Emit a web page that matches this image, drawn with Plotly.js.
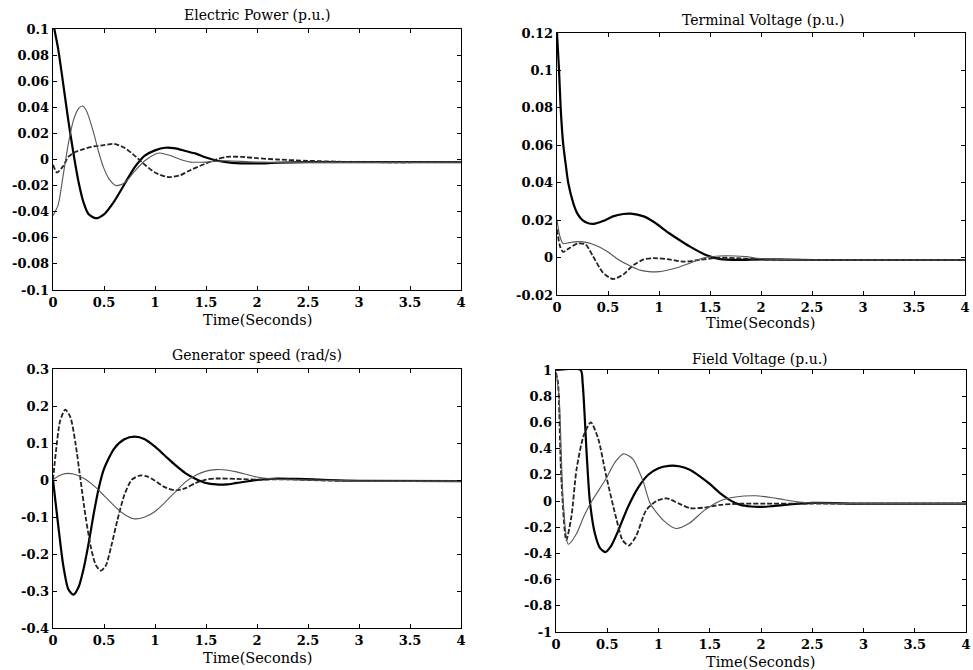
<!DOCTYPE html>
<html>
<head>
<meta charset="utf-8">
<script src="https://cdn.plot.ly/plotly-3.0.1.min.js"></script>
<style>html,body{margin:0;padding:0;background:#fff;}#chart{width:973px;height:670px;}</style>
</head>
<body>
<div id="chart"></div>
<script>
// ---------- Panel titles ----------
const panelTitles = ["Electric Power (p.u.)", "Terminal Voltage (p.u.)", "Generator speed (rad/s)", "Field Voltage (p.u.)"];
const xLabel = "Time(Seconds)";

// ---------- Tick labels ----------
const xTickVals = [0, 0.5, 1, 1.5, 2, 2.5, 3, 3.5, 4];
const xTickText = ["0", "0.5", "1", "1.5", "2", "2.5", "3", "3.5", "4"];
const powerTickVals = [-0.1, -0.08, -0.06, -0.04, -0.02, 0, 0.02, 0.04, 0.06, 0.08, 0.1];
const powerTickText = ["-0.1", "-0.08", "-0.06", "-0.04", "-0.02", "0", "0.02", "0.04", "0.06", "0.08", "0.1"];
const voltTickVals = [-0.02, 0, 0.02, 0.04, 0.06, 0.08, 0.1, 0.12];
const voltTickText = ["-0.02", "0", "0.02", "0.04", "0.06", "0.08", "0.1", "0.12"];
const speedTickVals = [-0.4, -0.3, -0.2, -0.1, 0, 0.1, 0.2, 0.3];
const speedTickText = ["-0.4", "-0.3", "-0.2", "-0.1", "0", "0.1", "0.2", "0.3"];
const fieldTickVals = [-1, -0.8, -0.6, -0.4, -0.2, 0, 0.2, 0.4, 0.6, 0.8, 1];
const fieldTickText = ["-1", "-0.8", "-0.6", "-0.4", "-0.2", "0", "0.2", "0.4", "0.6", "0.8", "1"];

// ---------- Electric Power ----------
const powerSolidT = [0, 0.05, 0.1, 0.15, 0.2, 0.25, 0.3, 0.35, 0.42, 0.5, 0.6, 0.7, 0.8, 0.9, 1.0, 1.1, 1.2, 1.3, 1.4, 1.5, 1.6, 1.7, 1.8, 1.9, 2.0, 2.2, 2.5, 3, 4];
const powerSolidY = [0.105, 0.085, 0.058, 0.03, 0.005, -0.017, -0.033, -0.042, -0.045, -0.042, -0.032, -0.019, -0.006, 0.003, 0.007, 0.009, 0.0085, 0.0065, 0.0045, 0.0015, -0.0008, -0.002, -0.0028, -0.003, -0.003, -0.0025, -0.002, -0.002, -0.002];
const powerDashT = [0, 0.04, 0.1, 0.15, 0.2, 0.3, 0.4, 0.5, 0.6, 0.7, 0.8, 0.9, 1.0, 1.1, 1.15, 1.25, 1.35, 1.5, 1.6, 1.7, 1.85, 2.0, 2.2, 2.5, 3, 4];
const powerDashY = [-0.004, -0.01, -0.005, 0.002, 0.005, 0.008, 0.01, 0.011, 0.012, 0.009, 0.003, -0.004, -0.01, -0.013, -0.0135, -0.012, -0.008, -0.003, 0.0, 0.002, 0.002, 0.001, 0.0, -0.001, -0.002, -0.002];
const powerDotT = [0, 0.05, 0.1, 0.15, 0.2, 0.25, 0.29, 0.33, 0.4, 0.45, 0.5, 0.55, 0.62, 0.7, 0.8, 0.9, 1.0, 1.05, 1.15, 1.25, 1.35, 1.5, 1.7, 2, 4];
const powerDotY = [-0.043, -0.035, -0.012, 0.012, 0.03, 0.039, 0.041, 0.037, 0.02, 0.005, -0.007, -0.015, -0.02, -0.018, -0.009, -0.001, 0.004, 0.005, 0.003, 0.0, -0.002, -0.002, -0.001, -0.002, -0.002];

// ---------- Terminal Voltage ----------
const voltSolidT = [0, 0.02, 0.036, 0.06, 0.085, 0.11, 0.16, 0.2, 0.25, 0.3, 0.36, 0.45, 0.55, 0.65, 0.72, 0.85, 0.95, 1.1, 1.2, 1.3, 1.46, 1.6, 1.8, 2.0, 2.5, 3, 4];
const voltSolidY = [0.12, 0.1, 0.08, 0.061, 0.05, 0.04, 0.029, 0.0235, 0.02, 0.0185, 0.018, 0.0195, 0.022, 0.0233, 0.0235, 0.022, 0.019, 0.013, 0.0094, 0.006, 0.0014, -0.0008, -0.0012, -0.001, -0.0013, -0.0013, -0.0013];
const voltDashT = [0, 0.03, 0.06, 0.12, 0.2, 0.28, 0.35, 0.45, 0.55, 0.65, 0.75, 0.85, 0.95, 1.1, 1.25, 1.4, 1.6, 1.8, 2.0, 2.5, 3, 4];
const voltDashY = [0.015, 0.006, 0.003, 0.005, 0.0075, 0.007, 0.001, -0.008, -0.0115, -0.009, -0.004, -0.001, -0.0003, -0.001, -0.0022, -0.0012, 0.0, -0.0005, -0.001, -0.0013, -0.0013, -0.0013];
const voltDotT = [0, 0.03, 0.06, 0.12, 0.2, 0.3, 0.4, 0.5, 0.6, 0.7, 0.8, 0.9, 1.0, 1.1, 1.2, 1.3, 1.45, 1.65, 1.85, 2.0, 2.5, 3, 4];
const voltDotY = [0.02, 0.011, 0.0075, 0.008, 0.0085, 0.008, 0.006, 0.003, -0.001, -0.004, -0.0065, -0.0075, -0.0075, -0.0065, -0.005, -0.003, 0.0, 0.001, 0.0005, -0.0005, -0.0013, -0.0013, -0.0013];

// ---------- Generator speed ----------
const speedSolidT = [0, 0.05, 0.1, 0.15, 0.2, 0.25, 0.3, 0.35, 0.4, 0.45, 0.5, 0.6, 0.7, 0.8, 0.9, 1.0, 1.1, 1.2, 1.3, 1.4, 1.5, 1.6, 1.7, 1.8, 2.0, 2.2, 2.4, 2.7, 3, 4];
const speedSolidY = [0, -0.12, -0.23, -0.295, -0.31, -0.29, -0.24, -0.17, -0.09, -0.02, 0.03, 0.085, 0.11, 0.117, 0.11, 0.09, 0.065, 0.04, 0.018, 0.003, -0.008, -0.012, -0.012, -0.008, 0.0, 0.004, 0.003, 0.0, -0.002, -0.003];
const speedDashT = [0, 0.03, 0.07, 0.12, 0.17, 0.22, 0.27, 0.32, 0.37, 0.42, 0.47, 0.52, 0.57, 0.63, 0.7, 0.77, 0.85, 0.92, 1.0, 1.1, 1.2, 1.3, 1.4, 1.5, 1.6, 1.8, 2.0, 2.3, 2.6, 3, 4];
const speedDashY = [0, 0.08, 0.16, 0.19, 0.17, 0.1, 0.0, -0.1, -0.18, -0.23, -0.245, -0.23, -0.18, -0.11, -0.04, 0.0, 0.012, 0.01, -0.002, -0.02, -0.028, -0.022, -0.008, 0.001, 0.004, 0.003, 0.001, 0.002, -0.001, -0.003, -0.003];
const speedDotT = [0, 0.05, 0.1, 0.15, 0.2, 0.3, 0.4, 0.5, 0.6, 0.7, 0.8, 0.9, 1.0, 1.1, 1.2, 1.3, 1.4, 1.5, 1.6, 1.7, 1.8, 1.9, 2.0, 2.2, 2.5, 3, 4];
const speedDotY = [0.0, 0.01, 0.016, 0.018, 0.016, 0.005, -0.015, -0.042, -0.07, -0.093, -0.105, -0.1, -0.085, -0.06, -0.032, -0.005, 0.013, 0.024, 0.028, 0.027, 0.022, 0.015, 0.008, 0.002, 0.0, -0.003, -0.003];

// ---------- Field Voltage ----------
const fieldSolidT = [0, 0.24, 0.26, 0.3, 0.33, 0.38, 0.43, 0.48, 0.54, 0.6, 0.7, 0.8, 0.9, 1.0, 1.1, 1.2, 1.3, 1.4, 1.5, 1.6, 1.7, 1.8, 1.9, 2.0, 2.1, 2.3, 2.5, 3, 4];
const fieldSolidY = [1.0, 1.0, 0.9, 0.35, 0.0, -0.25, -0.36, -0.39, -0.34, -0.24, -0.05, 0.1, 0.2, 0.25, 0.268, 0.265, 0.24, 0.19, 0.13, 0.06, 0.005, -0.03, -0.042, -0.045, -0.04, -0.025, -0.015, -0.02, -0.02];
const fieldDashT = [0, 0.02, 0.05, 0.1, 0.15, 0.2, 0.27, 0.34, 0.41, 0.49, 0.59, 0.65, 0.71, 0.78, 0.88, 0.98, 1.08, 1.2, 1.31, 1.45, 1.6, 1.8, 2.0, 2.5, 3, 4];
const fieldDashY = [0.98, 0.9, 0.2, -0.3, -0.12, 0.24, 0.5, 0.6, 0.48, 0.19, -0.14, -0.3, -0.34, -0.27, -0.07, 0.0, 0.02, -0.02, -0.055, -0.05, -0.03, -0.02, -0.02, -0.02, -0.02, -0.02];
const fieldDotT = [0, 0.03, 0.07, 0.12, 0.2, 0.27, 0.35, 0.48, 0.58, 0.66, 0.75, 0.85, 0.92, 1.05, 1.17, 1.3, 1.45, 1.6, 1.75, 1.95, 2.15, 2.4, 3, 4];
const fieldDotY = [0.98, 0.8, 0.0, -0.33, -0.25, -0.12, 0.0, 0.16, 0.3, 0.36, 0.32, 0.15, -0.02, -0.15, -0.21, -0.17, -0.07, 0.0, 0.03, 0.04, 0.02, -0.01, -0.02, -0.02];

// ---------- Styles ----------
const solidLine = {color: "#000000", width: 2.2, dash: "solid"};
const dashLine = {color: "#222222", width: 1.8, dash: "5px,2px"};
const dotLine = {color: "#555555", width: 1.1, dash: "solid"};

function tr(x, y, line, xa, ya) {
  return {x: x, y: y, type: "scatter", mode: "lines", line: Object.assign({shape: "spline", smoothing: 0.7}, line), xaxis: xa, yaxis: ya, hoverinfo: "skip", showlegend: false, cliponaxis: true};
}

const data = [
  tr(powerSolidT, powerSolidY, solidLine, "x", "y"),
  tr(powerDashT, powerDashY, dashLine, "x", "y"),
  tr(powerDotT, powerDotY, dotLine, "x", "y"),
  tr(voltSolidT, voltSolidY, solidLine, "x2", "y2"),
  tr(voltDashT, voltDashY, dashLine, "x2", "y2"),
  tr(voltDotT, voltDotY, dotLine, "x2", "y2"),
  tr(speedSolidT, speedSolidY, solidLine, "x3", "y3"),
  tr(speedDashT, speedDashY, dashLine, "x3", "y3"),
  tr(speedDotT, speedDotY, dotLine, "x3", "y3"),
  tr(fieldSolidT, fieldSolidY, solidLine, "x4", "y4"),
  tr(fieldDashT, fieldDashY, dashLine, "x4", "y4"),
  tr(fieldDotT, fieldDotY, dotLine, "x4", "y4")
];

const W = 973, H = 670;
const FONT = "DejaVu Serif";
function px(v) { return v / W; }
function py(v) { return 1 - v / H; }

const tickFont = {family: FONT, size: 13, color: "#000", weight: "bold"};

function xAx(x0, x1, anchor) {
  return {domain: [px(x0), px(x1)], anchor: anchor, range: [0, 4], tickmode: "array", tickvals: xTickVals, ticktext: xTickText,
    ticks: "inside", ticklen: 4, tickcolor: "#000", showline: true, linecolor: "#000", linewidth: 1.3, mirror: "ticks",
    showgrid: false, zeroline: false, tickfont: tickFont, fixedrange: true};
}
function yAx(y0, y1, anchor, range, vals, text) {
  return {domain: [py(y1), py(y0)], anchor: anchor, range: range, tickmode: "array", tickvals: vals, ticktext: text,
    ticks: "inside", ticklen: 4, tickcolor: "#000", showline: true, linecolor: "#000", linewidth: 1.3, mirror: "ticks",
    showgrid: false, zeroline: false, tickfont: tickFont, fixedrange: true};
}

function ann(text, x, y, size) {
  return {text: text, x: px(x), y: py(y), xref: "paper", yref: "paper", xanchor: "center", yanchor: "middle", showarrow: false,
    font: {family: FONT, size: size, color: "#000"}};
}

const layout = {
  width: W, height: H,
  margin: {l: 0, r: 0, t: 0, b: 0},
  paper_bgcolor: "#fff", plot_bgcolor: "#fff",
  showlegend: false,
  xaxis: xAx(53, 461, "y"),
  yaxis: yAx(29, 290, "x", [-0.1, 0.1], powerTickVals, powerTickText),
  xaxis2: xAx(557, 965, "y2"),
  yaxis2: yAx(33, 295, "x2", [-0.02, 0.12], voltTickVals, voltTickText),
  xaxis3: xAx(53, 461, "y3"),
  yaxis3: yAx(369, 628, "x3", [-0.4, 0.3], speedTickVals, speedTickText),
  xaxis4: xAx(556, 966, "y4"),
  yaxis4: yAx(370, 632, "x4", [-1, 1], fieldTickVals, fieldTickText),
  annotations: [
    ann(panelTitles[0], 257, 15, 14),
    ann(panelTitles[1], 763, 20, 14),
    ann(panelTitles[2], 257, 355, 14),
    ann(panelTitles[3], 760, 359, 14),
    ann(xLabel, 257, 320, 14.5),
    ann(xLabel, 760, 323, 14.5),
    ann(xLabel, 257, 658, 14.5),
    ann(xLabel, 760, 662, 14.5)
  ]
};

Plotly.newPlot("chart", data, layout, {staticPlot: true, displayModeBar: false});
</script>
</body>
</html>
